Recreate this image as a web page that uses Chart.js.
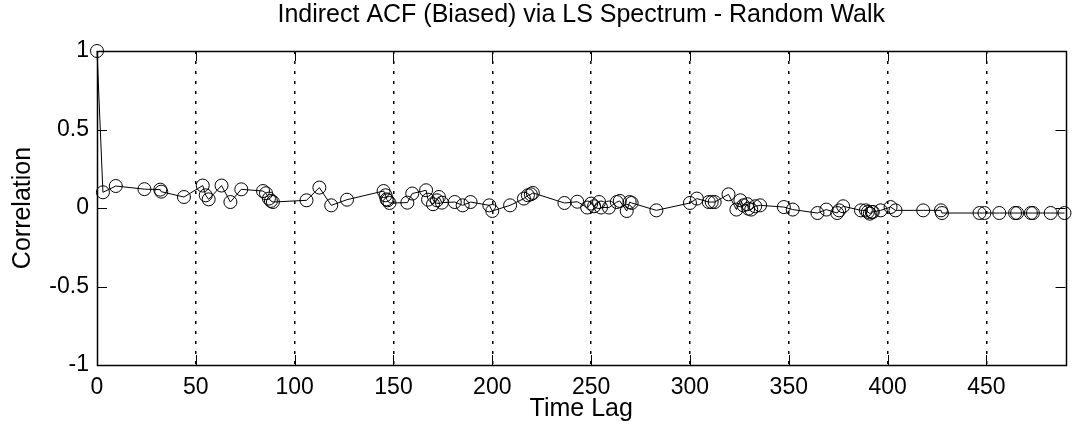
<!DOCTYPE html>
<html>
<head>
<meta charset="utf-8">
<script src="https://cdn.jsdelivr.net/npm/chart.js@4/dist/chart.umd.min.js"></script>
<style>
  html, body { margin: 0; padding: 0; background: #ffffff; }
  #c { display: block; }
</style>
</head>
<body>
<canvas id="c" width="1073" height="436"></canvas>
<script>
// ---- data ----
const chartTitle = "Indirect ACF (Biased) via LS Spectrum - Random Walk";
const xAxisTitle = "Time Lag";
const yAxisTitle = "Correlation";

const timeLags = [0, 3, 9.5, 24, 32, 32.5, 44, 53.5, 55, 56.5, 63, 67.5, 73, 84, 85.5, 87, 88, 89,
  106, 112.5, 118.5, 126.5, 145, 146, 146.5, 147, 148, 157, 159.5, 166.5, 167.5, 170, 172, 173, 174.5,
  181, 185, 189, 198.5, 200, 209, 216, 218, 219.5, 220.5, 236.5, 243, 248, 250, 251.5, 254, 255, 259,
  263, 264.5, 268, 269.5, 270.5, 283, 300, 303.5, 309.5, 311, 312.5, 319.5, 323.5, 325.5, 327, 329,
  329.5, 331, 333, 335.5, 347.5, 352, 364.5, 369, 374.5, 375.5, 377.5, 386.5, 389, 390, 391, 392,
  392.5, 396.5, 401.5, 404, 418, 427, 427.5, 446.5, 449, 456.5, 464.5, 465.5, 472.5, 473.5, 482.5, 489.5];

const correlation = [1, 0.10, 0.14, 0.12, 0.117, 0.104, 0.07, 0.143, 0.081, 0.055, 0.143, 0.038, 0.119,
  0.108, 0.094, 0.06, 0.045, 0.038,
  0.049, 0.13, 0.017, 0.053, 0.108, 0.081, 0.055, 0.049, 0.032, 0.034, 0.092, 0.113, 0.053, 0.024, 0.049, 0.07, 0.034,
  0.038, 0.017, 0.038, 0.017, -0.019, 0.017, 0.06, 0.081, 0.087, 0.096, 0.032, 0.04, 0.003, 0.028, 0.011, 0.038, 0.003, 0.003,
  0.038, 0.045, -0.019, 0.038, 0.032, -0.015, 0.032, 0.06, 0.038, 0.038, 0.038, 0.087, -0.01, 0.049, 0.017, 0.024,
  -0.004, -0.01, 0.011, 0.017, 0.006, -0.01, -0.032, -0.01, -0.032, -0.015, 0.011, -0.015, -0.015, -0.025, -0.036, -0.025,
  -0.025, -0.015, 0.006, -0.015, -0.015, -0.015, -0.032, -0.032, -0.032, -0.032, -0.032, -0.032, -0.032, -0.032, -0.032, -0.032];

const xMin = 0, xMax = 490, xStep = 50;
const yMin = -1, yMax = 1, yStep = 0.5;
const yTickLabels = { "-1": "-1", "-0.5": "-0.5", "0": "0", "0.5": "0.5", "1": "1" };

const points = timeLags.map((x, i) => ({ x: x, y: correlation[i] }));

// box + inward tick marks, positioned through the chart's own scales
const boxPlugin = {
  id: 'boxTicks',
  afterDraw(chart) {
    const { ctx, chartArea: a, scales } = chart;
    const xs = scales.x, ys = scales.y;
    const len = 10;
    ctx.save();
    ctx.strokeStyle = '#000';
    ctx.lineWidth = 1;
    ctx.setLineDash([]);
    ctx.beginPath();
    xs.ticks.forEach(t => {
      const px = Math.round(xs.getPixelForValue(t.value)) + 0.5;
      ctx.moveTo(px, a.bottom); ctx.lineTo(px, a.bottom - len);
      ctx.moveTo(px, a.top); ctx.lineTo(px, a.top + len);
    });
    ys.ticks.forEach(t => {
      const py = Math.round(ys.getPixelForValue(t.value)) + 0.5;
      ctx.moveTo(a.left, py); ctx.lineTo(a.left + len, py);
      ctx.moveTo(a.right, py); ctx.lineTo(a.right - len, py);
    });
    ctx.stroke();
    ctx.lineWidth = 1.5;
    ctx.strokeRect(Math.round(a.left) + 0.5, Math.round(a.top) + 0.5,
                   Math.round(a.right - a.left), Math.round(a.bottom - a.top));
    ctx.restore();
  }
};

const FONT = "'Liberation Sans', Arial, Helvetica, sans-serif";

new Chart(document.getElementById('c'), {
  type: 'scatter',
  data: {
    datasets: [{
      data: points,
      showLine: true,
      borderColor: '#000',
      borderWidth: 1,
      pointStyle: 'circle',
      pointRadius: 6.5,
      pointBorderWidth: 1,
      pointBorderColor: '#000',
      pointBackgroundColor: 'rgba(0,0,0,0)',
      clip: false,
      tension: 0
    }]
  },
  options: {
    responsive: false,
    animation: false,
    devicePixelRatio: 1,
    events: [],
    layout: { padding: { left: 0, right: 3, top: 0, bottom: 0 } },
    plugins: {
      legend: { display: false },
      tooltip: { enabled: false },
      title: {
        display: true,
        fullSize: false,
        text: chartTitle,
        color: '#000',
        font: { family: FONT, size: 25, weight: 'normal' },
        padding: { top: 0, bottom: 21 }
      }
    },
    scales: {
      x: {
        type: 'linear',
        min: xMin, max: xMax,
        afterFit(scale) { scale.height = 71; },
        ticks: {
          stepSize: xStep,
          includeBounds: false,
          color: '#000',
          padding: 9,
          maxRotation: 0,
          font: { family: FONT, size: 23 },
          callback: v => String(v)
        },
        grid: {
          display: true,
          drawTicks: false,
          color: (ctx) => (ctx.tick && (ctx.tick.value === xMin)) ? 'rgba(0,0,0,0)' : '#000',
          lineWidth: 1.5
        },
        border: { display: false, dash: [3, 7] },
        title: {
          display: true,
          text: xAxisTitle,
          color: '#000',
          font: { family: FONT, size: 25 },
          padding: { top: 0, bottom: 12 }
        }
      },
      y: {
        type: 'linear',
        min: yMin, max: yMax,
        afterFit(scale) { scale.width = 97; },
        ticks: {
          stepSize: yStep,
          color: '#000',
          padding: 8,
          font: { family: FONT, size: 23 },
          callback: v => (yTickLabels[String(v)] !== undefined ? yTickLabels[String(v)] : String(v))
        },
        grid: { display: false, drawTicks: false },
        border: { display: false },
        title: {
          display: true,
          text: yAxisTitle,
          color: '#000',
          font: { family: FONT, size: 25 },
          padding: { top: 8, bottom: 0 }
        }
      }
    }
  },
  plugins: [boxPlugin]
});
</script>
</body>
</html>
